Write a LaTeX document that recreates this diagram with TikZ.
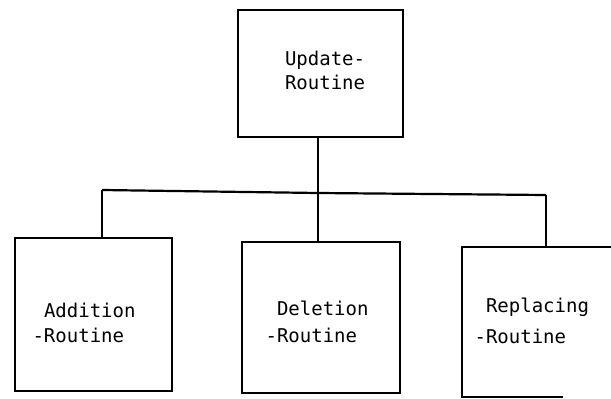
\documentclass[tikz,border=0pt]{standalone}
\usepackage{fontspec}
\newfontfamily\tw{DejaVu Sans Mono}
\begin{document}
\begin{tikzpicture}[x=1pt,y=-1pt,
  box/.style={draw=black, line width=2.2pt, inner sep=0pt, outer sep=0pt, anchor=north west},
  openbox/.style={inner sep=0pt, outer sep=0pt, anchor=north west},
  lbl/.style={inner sep=0pt, outer sep=0pt, anchor=base west, font=\tw\fontsize{19}{22}\selectfont},
  wire/.style={line width=2.2pt, line join=miter}]
\useasboundingbox[fill=white] (0,0) rectangle (611,399);
% boxes
\node[box, minimum width=165pt, minimum height=127pt] (upd) at (238,10) {};
\node[box, minimum width=157pt, minimum height=153pt] (add) at (15,238) {};
\node[box, minimum width=158pt, minimum height=151pt] (del) at (242,242) {};
\node[openbox, minimum width=170pt, minimum height=150pt] (rep) at (462,247) {};
\coordinate (repend) at (563,397);
\draw[wire] (rep.north east) -- (rep.north west) -- (rep.south west) -- (repend);
% labels
\node[lbl] (t1) at (285,65) {Update-};
\node[lbl] (t2) at (285,89) {Routine};
\node[lbl] (a1) at (44,317) {Addition};
\node[lbl] (a2) at (44,342) {\llap{-}Routine};
\node[lbl] (d1) at (277,315) {Deletion};
\node[lbl] (d2) at (277,342) {\llap{-}Routine};
\node[lbl] (r1) at (486,312) {Replacing};
\node[lbl] (r2) at (486,343) {\llap{-}Routine};
% connectors
\coordinate (bl) at (102,190);
\coordinate (bm) at (318,193);
\coordinate (br) at (546,195);
\draw[wire] (bl) -- (bm) -- (br);
\draw[wire] (bm |- upd.south) -- (bm |- del.north);
\draw[wire] (bl) -- (bl |- add.north);
\draw[wire] (br) -- (br |- rep.north);
\end{tikzpicture}
\end{document}
